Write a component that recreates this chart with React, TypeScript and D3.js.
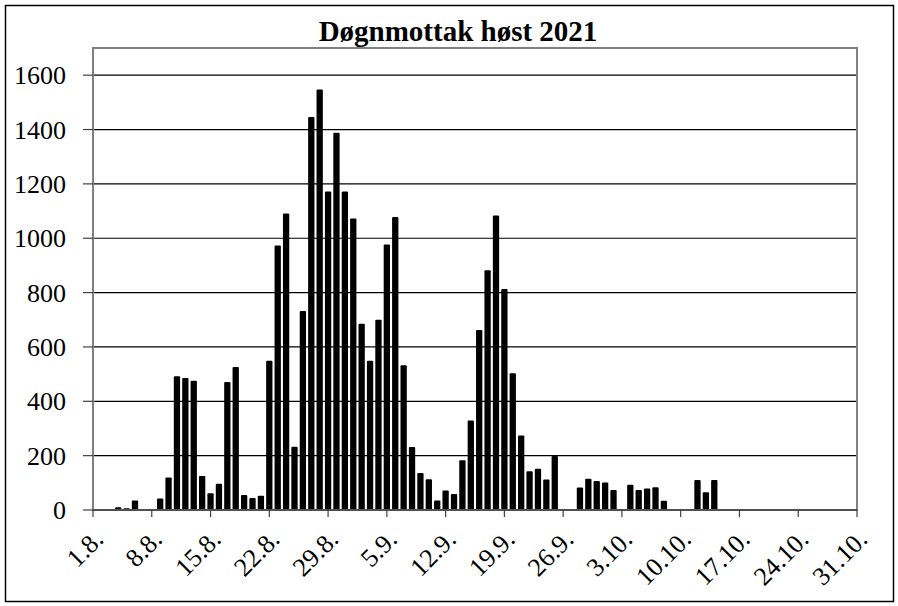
import React from "react";
import * as d3 from "d3";

const title = "Døgnmottak høst 2021";
const startDate = "2021-08-01";
const endDate = "2021-10-31";
// daily values starting 1.8.2021
const dailyValues = [
  0, 0, 0, 10, 6, 35, 0, 0, 42, 120,
  492, 486, 476, 125, 62, 97, 471, 526, 55, 44,
  52, 549, 973, 1091, 233, 732, 1446, 1547, 1172, 1388,
  1172, 1073, 685, 549, 700, 977, 1078, 533, 232, 136,
  113, 35, 72, 59, 183, 329, 662, 882, 1084, 813,
  503, 274, 143, 152, 112, 199, 0, 0, 83, 115,
  107, 101, 74, 0, 93, 74, 79, 84, 34, 0,
  0, 0, 110, 65, 110,
];
const xTickLabels = ["1.8.", "8.8.", "15.8.", "22.8.", "29.8.", "5.9.", "12.9.", "19.9.", "26.9.", "3.10.", "10.10.", "17.10.", "24.10.", "31.10."];
const yTicks = [0, 200, 400, 600, 800, 1000, 1200, 1400, 1600];

const W = 898;
const H = 606;
const M = { left: 93, right: 857, top: 48, bottom: 510 };

export default function App() {
  const start = new Date(startDate + "T00:00:00Z");
  const end = new Date(endDate + "T00:00:00Z");
  const x = d3.scaleUtc().domain([start, end]).range([M.left, M.right]);
  const y = d3.scaleLinear().domain([0, 1700]).range([M.bottom, M.top]);
  const step = x(d3.utcDay.offset(start, 1)) - x(start);
  const bw = step * 0.75;
  const tickDates = xTickLabels.map((_, i) => d3.utcDay.offset(start, i * 7));
  const font = "'Liberation Serif', 'Times New Roman', serif";

  return (
    <svg width={W} height={H} style={{ position: "absolute", left: 0, top: 0, background: "#fff" }}>
      <rect x={0} y={0} width={W} height={H} fill="#fff" />
      <rect x={5.5} y={5.5} width={888} height={596} fill="none" stroke="#000" strokeWidth={1.5} />
      <text x={458} y={41} textAnchor="middle" fontFamily={font} fontWeight="bold" fontSize={29}>{title}</text>
      {yTicks.filter((t) => t > 0).map((t) => (
        <line key={"g" + t} x1={M.left} x2={M.right} y1={y(t)} y2={y(t)} stroke="#000" strokeWidth={1.2} />
      ))}
      {dailyValues.map((v, i) => {
        if (!v) return null;
        const cx = x(d3.utcDay.offset(start, i));
        return <rect key={i} x={cx - bw / 2} y={y(v)} width={bw} height={y(0) - y(v)} fill="#000" rx={1} />;
      })}
      <rect x={M.left} y={M.top} width={M.right - M.left} height={M.bottom - M.top} fill="none" stroke="#808080" strokeWidth={2} />
      <line x1={M.left} x2={M.right} y1={M.bottom} y2={M.bottom} stroke="#404040" strokeWidth={1.5} />
      {yTicks.map((t) => (
        <g key={"y" + t}>
          <line x1={M.left - 10} x2={M.left} y1={y(t)} y2={y(t)} stroke="#404040" strokeWidth={1.2} />
          <text x={66} y={y(t)} dy="0.35em" textAnchor="end" fontFamily={font} fontSize={26}>{t}</text>
        </g>
      ))}
      {tickDates.map((d, i) => (
        <g key={"x" + i} transform={`translate(${x(d)},${M.bottom})`}>
          <line y1={0} y2={7} stroke="#404040" strokeWidth={1.2} />
          <text transform="translate(-1,18) rotate(-45)" textAnchor="end" fontFamily={font} fontSize={26} dy="0.7em">{xTickLabels[i]}</text>
        </g>
      ))}
    </svg>
  );
}
